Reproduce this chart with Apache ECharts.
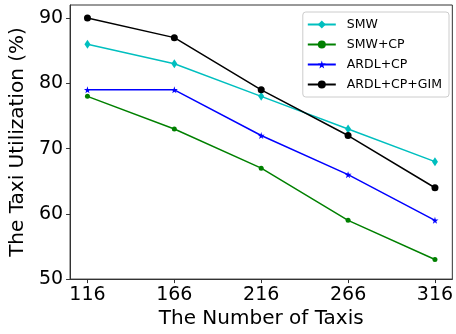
<html style="height: 100%">
<head>
    <meta charset="utf-8">
</head>
<body style="height: 100%; margin: 0; background: #fff">
    <div id="container" style="width: 456px; height: 334px"></div>
    <script type="text/javascript" src="https://cdn.jsdelivr.net/npm/echarts@6/dist/echarts.min.js"></script>
    <script type="text/javascript">
        // data
        var taxis = [116, 166, 216, 266, 316];
        var yTicks = [50, 60, 70, 80, 90];
        var smw = [86, 83, 78, 73, 68];
        var smwCp = [78, 73, 67, 59, 53];
        var ardlCp = [79, 79, 72, 66, 59];
        var ardlCpGim = [90, 87, 79, 72, 64];

        var starPath = 'path://M50,0 L61,35 L98,35 L68,57 L79,91 L50,70 L21,91 L32,57 L2,35 L39,35 Z';
        var font = 'DejaVu Sans';

        function pairs(vals) {
            return taxis.map(function (x, i) { return [x, vals[i]]; });
        }

        function line(name, vals, color, symbol, size) {
            return {
                name: name,
                type: 'line',
                data: pairs(vals),
                symbol: symbol,
                symbolSize: size,
                showAllSymbol: true,
                lineStyle: { color: color, width: 1.5 },
                itemStyle: { color: color },
                emphasis: { disabled: true },
                animation: false
            };
        }

        var chartDom = document.getElementById('container');
        var myChart = echarts.init(chartDom);
        var option = {
            backgroundColor: '#fff',
            animation: false,
            grid: {
                left: 68, right: 3, top: 5, bottom: 52,
                show: true, borderColor: '#333', borderWidth: 1
            },
            legend: {
                orient: 'vertical',
                right: 7,
                top: 12,
                padding: [6, 7, 6, 4],
                borderColor: '#ccc',
                borderWidth: 1,
                borderRadius: 3,
                itemWidth: 28,
                itemHeight: 10,
                itemGap: 7,
                textStyle: { fontFamily: font, fontSize: 12.5, color: '#000', padding: [0, 0, 0, 6] },
                data: ['SMW', 'SMW+CP', 'ARDL+CP', 'ARDL+CP+GIM']
            },
            xAxis: {
                type: 'value',
                min: 106,
                max: 326,
                name: 'The Number of Taxis',
                nameLocation: 'middle',
                nameGap: 28,
                nameTextStyle: { fontFamily: font, fontSize: 20, color: '#000' },
                splitLine: { show: false },
                axisLine: { onZero: false, lineStyle: { color: '#333' } },
                axisTick: { show: true, length: 4, customValues: taxis, lineStyle: { color: '#333' } },
                axisLabel: { customValues: taxis, margin: 6, fontFamily: font, fontSize: 19, color: '#000' }
            },
            yAxis: {
                type: 'value',
                min: 50,
                max: 92,
                name: 'The Taxi Utilization (%)',
                nameLocation: 'middle',
                nameGap: 40,
                nameTextStyle: { fontFamily: font, fontSize: 20, color: '#000' },
                splitLine: { show: false },
                axisLine: { show: true, lineStyle: { color: '#333' } },
                axisTick: { show: true, length: 4, customValues: yTicks, lineStyle: { color: '#333' } },
                axisLabel: { customValues: yTicks, margin: 7, fontFamily: font, fontSize: 19, color: '#000' }
            },
            series: [
                line('SMW', smw, '#00bfbf', 'diamond', [6, 9]),
                line('SMW+CP', smwCp, '#008000', 'circle', 5),
                line('ARDL+CP', ardlCp, '#0000ff', starPath, 7),
                line('ARDL+CP+GIM', ardlCpGim, '#000000', 'circle', 7)
            ]
        };

        option && myChart.setOption(option);
    </script>
</body>
</html>
